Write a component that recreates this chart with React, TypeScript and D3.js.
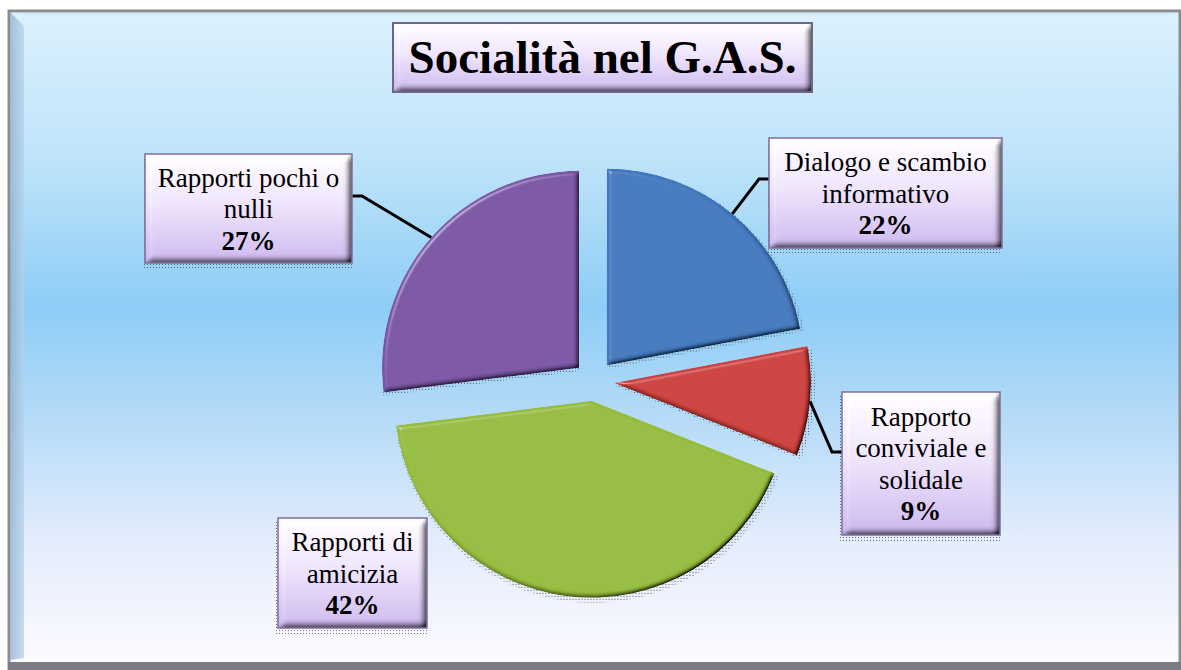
import React from "react";
import * as d3 from "d3";

// chart data
const categories = [
  "Dialogo e scambio informativo",
  "Rapporto conviviale e solidale",
  "Rapporti di amicizia",
  "Rapporti pochi o nulli",
];
const values = [22, 9, 42, 27];
const labelLines = [
  ["Dialogo e scambio", "informativo"],
  ["Rapporto", "conviviale e", "solidale"],
  ["Rapporti di", "amicizia"],
  ["Rapporti pochi o", "nulli"],
];
const sliceColors = ["#4279bd", "#cc403c", "#96bc3c", "#7a55a4"];
const title = "Socialità nel G.A.S.";

// layout of the label boxes (x, y, w, h) and connector side
const boxes = [
  { x: 769, y: 138, w: 233, h: 110, side: "left", ly: 41 },
  { x: 842, y: 392, w: 158, h: 143, side: "left", ly: 60 },
  { x: 278, y: 518, w: 149, h: 110, side: null, ly: 0 },
  { x: 145, y: 154, w: 207, h: 109, side: "right", ly: 42 },
];

const W = 1181, H = 670;
const cx = 594, cy = 381, R = 197, explode = 20;
const serif = "'Liberation Serif', 'Times New Roman', serif";

const Bevel = ({ id, blur, scale, spec }: { id: string; blur: number; scale: number; spec: number }) => (
  <filter id={id} x="-10%" y="-10%" width="120%" height="120%">
    <feGaussianBlur in="SourceAlpha" stdDeviation={blur} result="blur" />
    <feDiffuseLighting in="blur" surfaceScale={scale} diffuseConstant="1.414" lightingColor="#fff" result="diff">
      <feDistantLight azimuth={225} elevation={45} />
    </feDiffuseLighting>
    <feComposite in="SourceGraphic" in2="diff" operator="arithmetic" k1={1} k2={0} k3={0} k4={0} result="shaded" />
    <feSpecularLighting in="blur" surfaceScale={scale} specularConstant={spec} specularExponent="45" lightingColor="#fff" result="spec">
      <feDistantLight azimuth={225} elevation={45} />
    </feSpecularLighting>
    <feComposite in="spec" in2="SourceAlpha" operator="in" result="specIn" />
    <feComposite in="shaded" in2="specIn" operator="arithmetic" k1={0} k2={1} k3={1} k4={0} result="lit" />
    <feComposite in="lit" in2="SourceAlpha" operator="in" />
  </filter>
);

export default function App() {
  const data = categories.map((c, i) => ({ name: c, value: values[i], i }));
  const pie = d3.pie<any>().sort(null).value((d) => d.value).startAngle(0);
  const arcs = pie(data);
  const arc = d3.arc<any>().innerRadius(0).outerRadius(R);
  const shadowArc = d3.arc<any>().innerRadius(0).outerRadius(R + 2);
  const color = d3.scaleOrdinal<number, string>().domain(d3.range(4)).range(sliceColors);

  const off = (a: any) => {
    const m = (a.startAngle + a.endAngle) / 2;
    return [Math.sin(m) * explode, -Math.cos(m) * explode];
  };

  const bg = [
    ["0%", "#dcf1fd"],
    ["22%", "#c0e4fa"],
    ["45%", "#8ecdf6"],
    ["62%", "#b5dbf8"],
    ["80%", "#e2ecfc"],
    ["100%", "#fefbff"],
  ];

  return (
    <svg width={W} height={H} style={{ position: "absolute", left: 0, top: 0 }}>
      <defs>
        <linearGradient id="bg" x1="0" y1="0" x2="0" y2="1">
          {bg.map(([o, c]) => <stop key={o} offset={o} stopColor={c} />)}
        </linearGradient>
        <linearGradient id="box" x1="0" y1="0" x2="0" y2="1">
          <stop offset="0%" stopColor="#fffdff" />
          <stop offset="45%" stopColor="#efe5fb" />
          <stop offset="100%" stopColor="#cdb8ee" />
        </linearGradient>
        <linearGradient id="leftBevel" x1="0" y1="0" x2="1" y2="0">
          <stop offset="0%" stopColor="#8eb0cf" />
          <stop offset="100%" stopColor="#b6d3ea" />
        </linearGradient>
        <pattern id="dots" width="3" height="3" patternUnits="userSpaceOnUse">
          <rect x="0" y="0" width="1" height="1" fill="#222" />
        </pattern>
        <Bevel id="bevel" blur={2} scale={3} spec={0.35} />
        <Bevel id="boxBevel" blur={3.5} scale={5} spec={0.3} />
      </defs>

      <rect x={0} y={0} width={W} height={H} fill="#fff" />
      {/* frame */}
      <rect x={9} y={11} width={W - 10} height={H - 12} fill="url(#bg)" stroke="#8c8c8c" strokeWidth={3} />
      <polygon points={`10.5,12.5 24,26 24,${H - 12} 10.5,${H - 10}`} fill="url(#leftBevel)" opacity={0.75} />
      <polygon points={`10.5,12.5 ${W - 2},12.5 ${W - 12},15 24,15`} fill="#cfe6f8" opacity={0.6} />
      <rect x={8} y={H - 8} width={W - 8} height={8} fill="#7d7a84" />

      {/* title */}
      <rect x={393} y={23} width={419} height={69} fill="url(#box)" filter="url(#boxBevel)" />
      <rect x={393} y={23} width={419} height={69} fill="none" stroke="#6d6585" strokeWidth={2} />
      <text x={602.5} y={73} textAnchor="middle" fontFamily={serif} fontWeight="bold" fontSize={47} fill="#000">
        {title}
      </text>

      {/* pie shadows */}
      {arcs.map((a, i) => {
        const [dx, dy] = off(a);
        return (
          <path key={"s" + i} d={shadowArc(a) || ""} transform={`translate(${cx + dx + 2},${cy + dy + 3})`}
            fill="url(#dots)" opacity={0.75} />
        );
      })}
      {/* pie slices */}
      {arcs.map((a, i) => {
        const [dx, dy] = off(a);
        return (
          <path key={"p" + i} d={arc(a) || ""} transform={`translate(${cx + dx},${cy + dy})`}
            fill={color(i)} filter="url(#bevel)" />
        );
      })}

      {/* connectors */}
      {arcs.map((a, i) => {
        const b = boxes[i];
        if (!b.side) return null;
        const [dx, dy] = off(a);
        const m = (a.startAngle + a.endAngle) / 2;
        const px = cx + dx + Math.sin(m) * R;
        const py = cy + dy - Math.cos(m) * R;
        const bx = b.side === "left" ? b.x : b.x + b.w;
        const ex = b.side === "left" ? bx - 10 : bx + 10;
        const y = b.y + b.ly;
        return (
          <polyline key={"c" + i} points={`${px},${py} ${ex},${y} ${bx},${y}`} fill="none" stroke="#000" strokeWidth={3} />
        );
      })}

      {/* labels */}
      {boxes.map((b, i) => {
        const lines = [...labelLines[i], values[i] + "%"];
        const n = lines.length;
        const mid = b.y + b.h / 2;
        return (
          <g key={"l" + i}>
            <rect x={b.x - 3} y={b.y + 3} width={b.w + 3} height={b.h + 4} fill="url(#dots)" opacity={0.6} />
            <rect x={b.x} y={b.y} width={b.w} height={b.h} fill="url(#box)" filter="url(#boxBevel)" />
            <rect x={b.x} y={b.y} width={b.w} height={b.h} fill="none" stroke="#7d6e98" strokeWidth={1.5} />
            {lines.map((t, k) => (
              <text key={k} x={b.x + b.w / 2} y={mid + (k - (n - 1) / 2) * 31.5 + 9.5} textAnchor="middle"
                fontFamily={serif} fontSize={27} fontWeight={k === n - 1 ? "bold" : "normal"} fill="#000">
                {t}
              </text>
            ))}
          </g>
        );
      })}
    </svg>
  );
}
